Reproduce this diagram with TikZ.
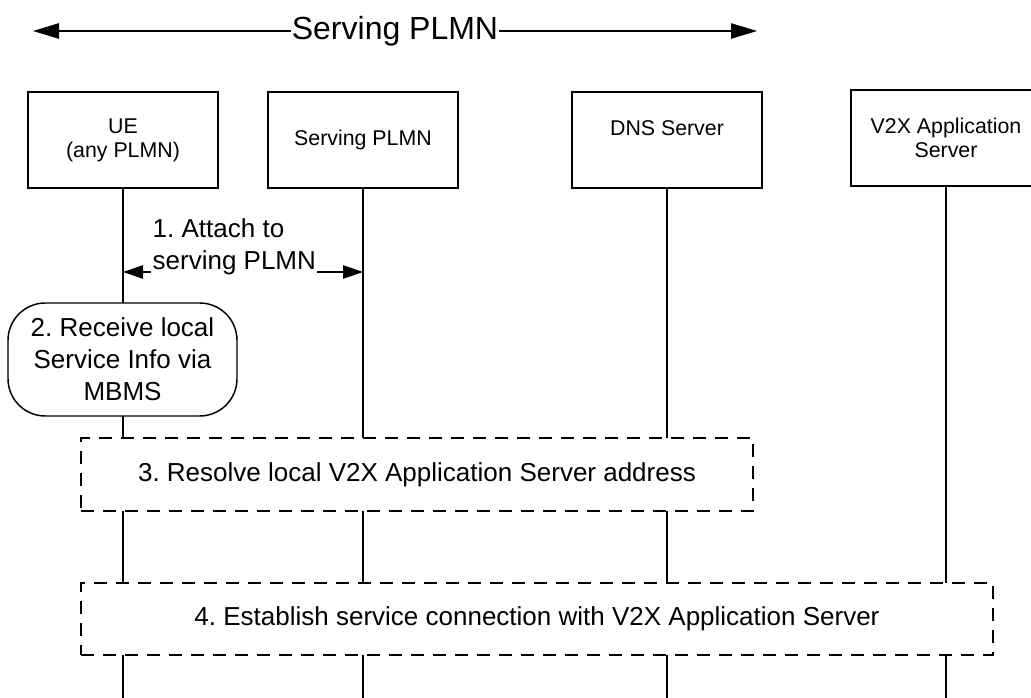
\documentclass[tikz,border=0pt]{standalone}
\usepackage{fontspec}
\setmainfont{Liberation Sans}
\usetikzlibrary{arrows.meta}
\frenchspacing
\begin{document}
\begin{tikzpicture}[x=0.75pt, y=-0.75pt, line width=1.1pt,
    entity/.style={draw, minimum width=142.5pt, minimum height=72pt, align=center, font=\fontsize{16}{18}\selectfont},
    steptext/.style={font=\fontsize{19.5}{24}\selectfont},
    stepbox/.style={draw, fill=white, dash pattern=on 10pt off 6.5pt, steptext},
    bigtip/.style={{Triangle[length=19.5pt, width=11.5pt]}-{Triangle[length=19.5pt, width=11.5pt]}},
    smalltip/.style={{Triangle[length=15pt, width=10pt]}-{Triangle[length=15pt, width=10pt]}}]
    \useasboundingbox (0,0) rectangle (1031,698);

    \coordinate (plmnL) at (33,31);
    \coordinate (plmnR) at (757,31);
    \draw [bigtip] (plmnL) -- node [fill=white, inner sep=1pt, font=\fontsize{24}{28}\selectfont] (title) {Serving PLMN} (plmnR);

    \node [entity] (ue) at (123,140) {UE\\(any PLMN)};
    \node [entity] (serving) at (363,140) {Serving PLMN};
    \node [entity] (dns) at (667,140) {DNS Server\\\mbox{}};
    \node [entity] (v2x) at (946,138) {V2X Application\\Server};

    \coordinate (ueEnd) at (123,698);
    \coordinate (servingEnd) at (363,698);
    \coordinate (dnsEnd) at (667,698);
    \coordinate (v2xEnd) at (946,698);
    \draw (ue) -- (ueEnd);
    \draw (serving) -- (servingEnd);
    \draw (dns) -- (dnsEnd);
    \draw (v2x) -- (v2xEnd);

    \coordinate (ueAttach) at (123,272);
    \coordinate (servingAttach) at (363,272);
    \draw [smalltip] (ueAttach) -- node [fill=white, inner sep=1pt, align=left, anchor=south, yshift=-3.5pt, xshift=-6.5pt, steptext] (attach) {1. Attach to\\serving PLMN} (servingAttach);

    \node [draw, fill=white, rounded corners=28pt, minimum width=171.75pt, minimum height=84.75pt, align=center, steptext] (mbms) at (122.5,359.5) {2. Receive local\\Service Info via\\MBMS};

    \node [stepbox, minimum width=504pt, minimum height=54.75pt] (resolve) at (417,474.5) {3. Resolve local V2X Application Server address};
    \node [stepbox, minimum width=684pt, minimum height=54pt] (establish) at (537,619) {4. Establish service connection with V2X Application Server};
\end{tikzpicture}
\end{document}
